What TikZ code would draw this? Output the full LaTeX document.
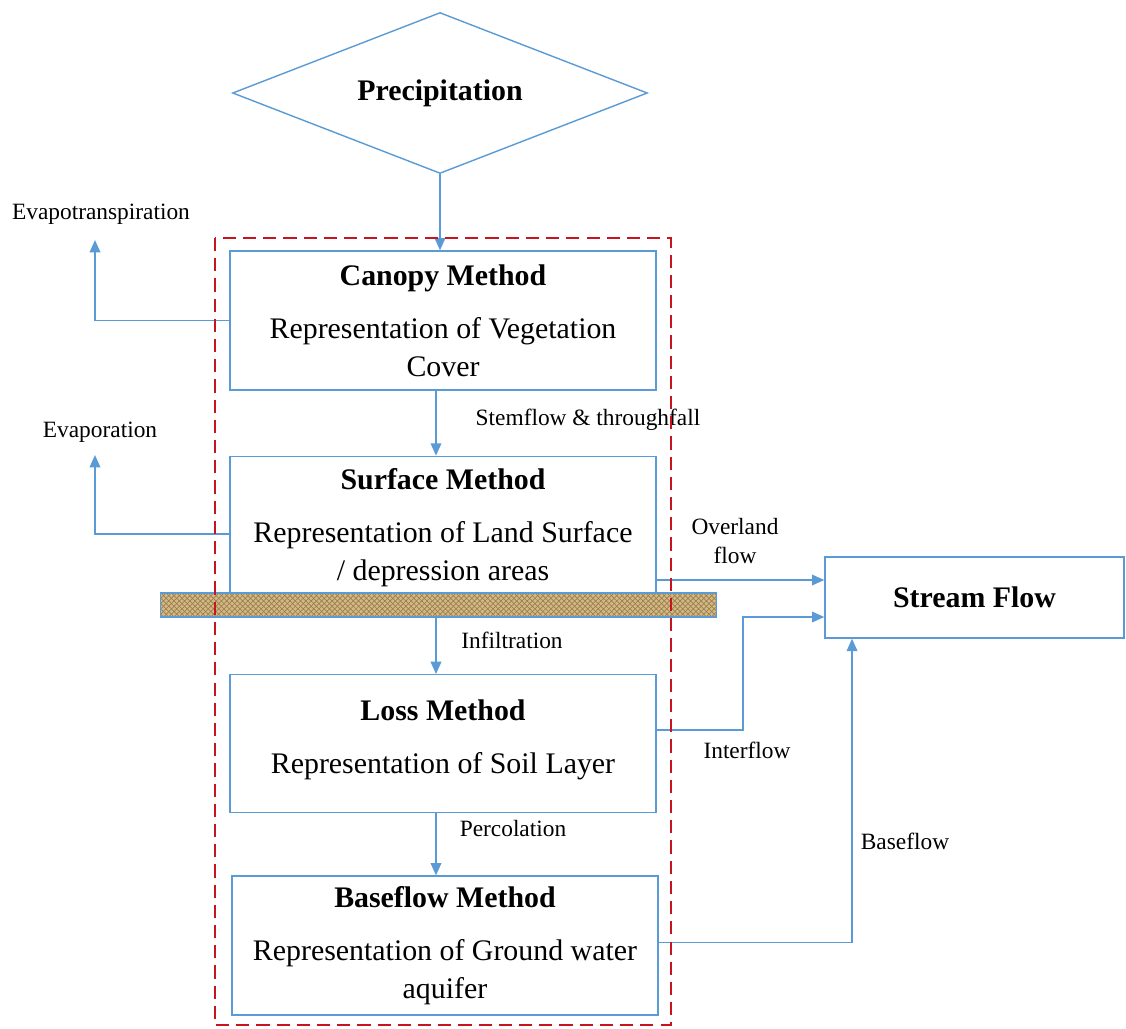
\documentclass[tikz,border=0pt]{standalone}
\usepackage{fontspec}
\setmainfont{Liberation Serif}
\usetikzlibrary{positioning, arrows.meta, shapes.geometric, patterns}
\definecolor{flowblue}{RGB}{91,155,213}
\definecolor{dashred}{RGB}{200,20,30}
\definecolor{soiltan}{RGB}{212,185,128}
\definecolor{soildark}{RGB}{130,95,45}
\tikzset{
  box/.style={rectangle, draw=flowblue, line width=0.8pt, fill=white,
              minimum width=8.52cm, minimum height=2.78cm, inner sep=0pt,
              align=center, font=\fontsize{17}{21.4}\selectfont},
  sbox/.style={rectangle, draw=flowblue, line width=0.8pt, fill=white,
               minimum width=5.98cm, minimum height=1.62cm, inner sep=0pt,
               font=\fontsize{17}{20.4}\selectfont\bfseries},
  dia/.style={diamond, aspect=2.6, draw=flowblue, line width=0.8pt, inner sep=0pt,
              minimum width=8.3cm, minimum height=3.22cm,
              font=\fontsize{17}{20.4}\selectfont\bfseries},
  soil/.style={rectangle, draw=flowblue, line width=0.6pt,
               preaction={fill=soiltan}, pattern=crosshatch,
               pattern color=soildark!80, minimum width=11.14cm,
               minimum height=0.48cm, inner sep=0pt},
  arr/.style={-{Triangle[length=7pt,width=6pt]}, line width=1pt, color=flowblue},
  lbl/.style={inner sep=0pt, align=center, font=\fontsize{13.3}{17}\selectfont},
}

\begin{document}
\begin{tikzpicture}[x=0.02cm, y=-0.02cm]
    \useasboundingbox (0,0) rectangle (1126,1028);
    \node[dia] (precip) at (440,93) {Precipitation};
    \node[box] (canopy) at (443,320.5)
          {\textbf{Canopy Method}\\[9pt]Representation of Vegetation\\Cover};
    \node[box, minimum height=2.84cm, below=1.3cm of canopy] (surface)
          {\textbf{Surface Method}\\[9pt]Representation of Land Surface\\/ depression areas};
    \node[box, minimum height=2.76cm, below=1.5cm of surface] (loss)
          {\textbf{Loss Method}\\[9pt]Representation of Soil Layer\\[-13.4pt]\mbox{}};
    \node[box, below=1.24cm of loss, xshift=0.04cm] (base)
          {\textbf{Baseflow Method}\\[9pt]Representation of Ground water\\aquifer};
    \node[sbox] (stream) at (974.5,597.5) {Stream Flow};
    \node[soil] (bar) at (438.5,605) {};
    % labels
    \node[lbl] (etlbl) at (101,214) {Evapotranspiration};
    \node[lbl] (evlbl) at (100,432) {Evaporation};
    \node[lbl] (stlbl) at (588,420) {Stemflow \& throughfall};
    \node[lbl] (ovlbl) at (735,541) {Overland\\flow};
    \node[lbl] (inlbl) at (512,640) {Infiltration};
    \node[lbl] (iflbl) at (747,750) {Interflow};
    \node[lbl] (pclbl) at (513,828) {Percolation};
    \node[lbl] (bflbl) at (905,841) {Baseflow};
    \coordinate (et) at (95,240);
    \coordinate (ev) at (95,455);
    \coordinate (ovl) at ([yshift=0.35cm]stream.west);
    \coordinate (ifl) at ([yshift=-0.39cm]stream.west);
    % connectors
    \draw[arr] (precip.south)--(precip.south |- canopy.north);
    \draw[arr] ([xshift=-0.14cm]canopy.south)--([xshift=-0.14cm]surface.north);
    \draw[arr] ([xshift=-0.05cm]bar.south)--([xshift=-0.05cm]bar.south |- loss.north);
    \draw[arr] ([xshift=-0.14cm]loss.south)--([xshift=-0.14cm]loss.south |- base.north);
    \draw[arr] (canopy.west)-|(et);
    \draw[arr] ([yshift=-0.14cm]surface.west)-|(ev);
    \draw[arr] (ovl -| surface.east)--(ovl);
    \draw[arr] ([yshift=0.28cm]loss.east)--++(86,0)|-(ifl);
    \draw[arr] ([yshift=0.06cm]base.east)-|([xshift=-2.45cm]stream.south);
    % modelled area
    \draw[dashred, line width=1.6pt, dash pattern=on 7.5pt off 4pt]
          (215,238) rectangle (671,1025);
  \end{tikzpicture}
\end{document}
